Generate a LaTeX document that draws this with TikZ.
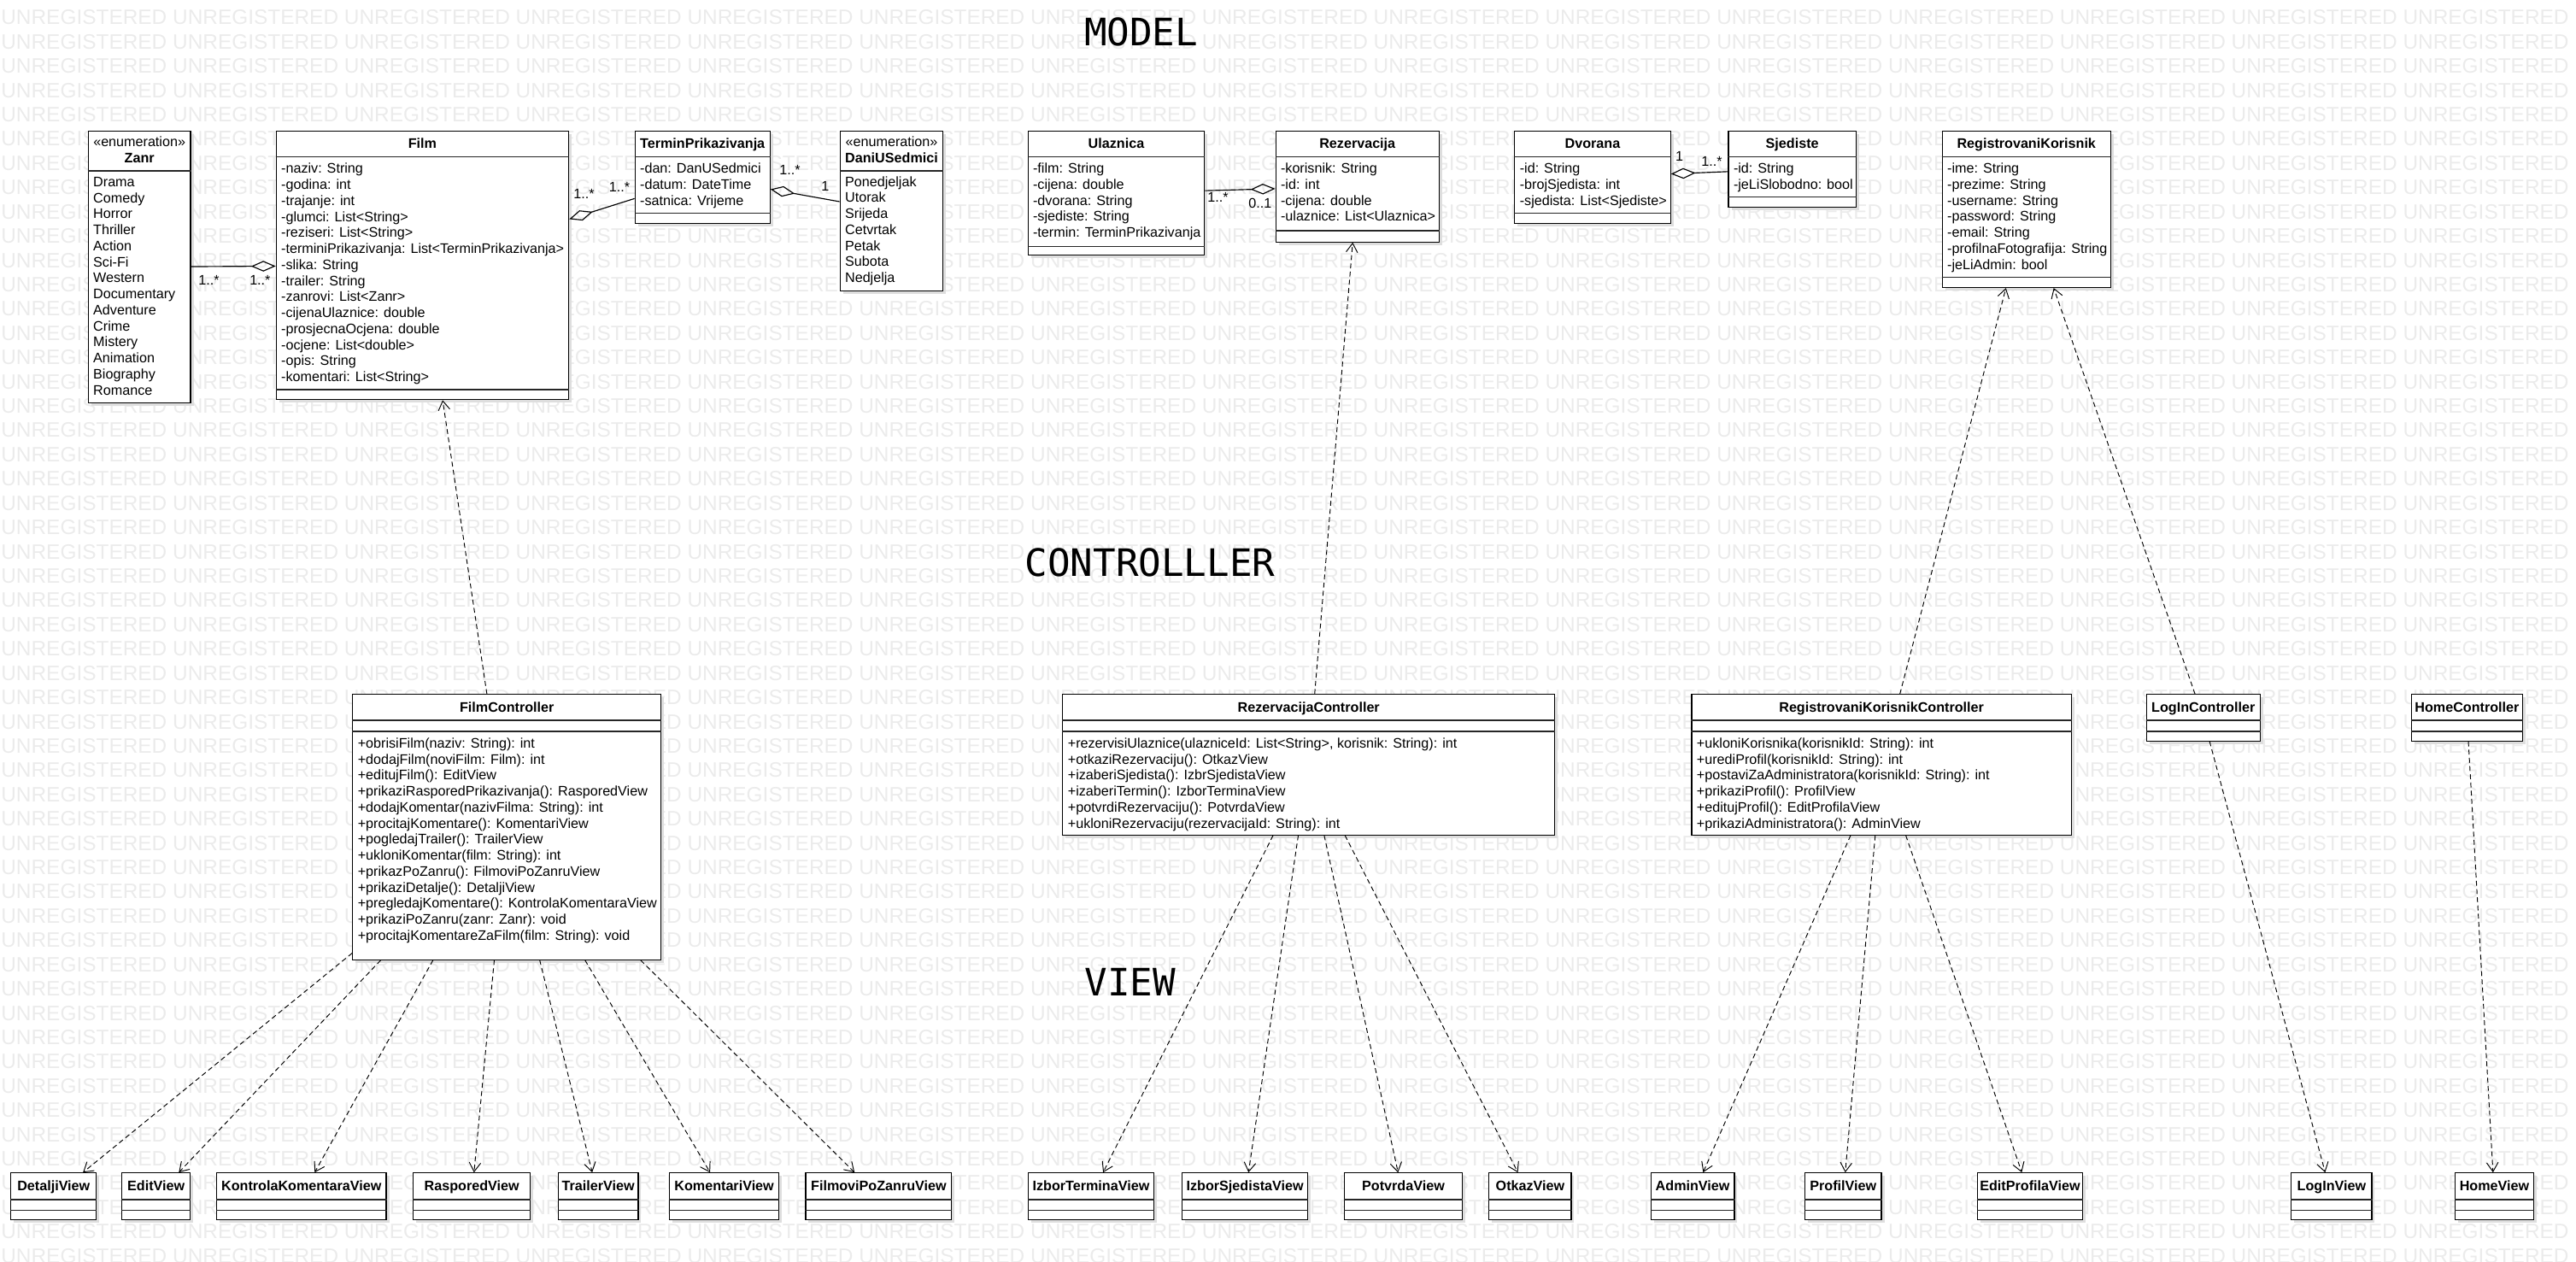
\documentclass[tikz,border=0pt]{standalone}
\usepackage{fontspec}
\setmainfont{Liberation Sans}
\newfontfamily\slojfont{DejaVu Sans Mono}
\usetikzlibrary{arrows.meta,shadows}

\newcommand{\tekst}{\fontsize{8.4pt}{9.75pt}\selectfont}
\newcommand{\vodenitekst}{UNREGISTERED UNREGISTERED UNREGISTERED UNREGISTERED UNREGISTERED UNREGISTERED UNREGISTERED UNREGISTERED UNREGISTERED UNREGISTERED UNREGISTERED UNREGISTERED UNREGISTERED UNREGISTERED UNREGISTERED UNREGISTERED}

% horizontalna linija preko klase, #2 = udaljenost od vrha
\newcommand{\pregrada}[2]{\draw[pregr] ([yshift=-#2pt]#1.north west) -- ([yshift=-#2pt]#1.north east);}
% redovi teksta u klasi, #2 = bazna linija prvog reda
\newcommand{\redovi}[3]{%
  \foreach \stavka [count=\i from 0] in {#3}
    \node[redak] (#1-\i) at ([xshift=3.2pt, yshift={-(#2+9.75*\i)*1pt}]#1.north west) {\stavka};}

\tikzset{
  klasa/.style={draw, fill=white, line width=0.6pt, anchor=north west, inner sep=0pt,
    drop shadow={shadow xshift=1.8pt, shadow yshift=-1.8pt, fill=black!13, opacity=1}},
  pregr/.style={line width=0.7pt, draw=black!85},
  ime/.style={font=\tekst\bfseries, anchor=base, inner sep=0pt},
  stereo/.style={font=\tekst, anchor=base, inner sep=0pt},
  redak/.style={font=\tekst, anchor=base west, inner sep=0pt},
  mult/.style={font=\tekst, inner sep=0pt},
  sloj/.style={font=\fontsize{23pt}{23pt}\slojfont, anchor=base, inner sep=0pt},
  vodeni/.style={font=\fontsize{12.7pt}{12.7pt}\selectfont, text=black!8, anchor=base west, inner sep=0pt},
  zavisnost/.style={line width=0.5pt, dash pattern=on 3pt off 2pt,
    -{Straight Barb[length=5.5pt, width=7pt]}},
  agregacija/.style={line width=0.6pt, -{Diamond[open, length=15pt, width=6.5pt]}}
}

\begin{document}
\begin{tikzpicture}[x=1pt, y=1pt]
  \useasboundingbox (0,0) rectangle (1568,-768);

  % vodeni znak
  \begin{scope}
    \clip (0,0) rectangle (1568,-768);
    \foreach \r in {0,...,51}
      \node[vodeni] (wm\r) at (0.5,{-15-14.78*\r}) {\vodenitekst};
  \end{scope}

  \node[sloj] (model) at (694.6,-27.7) {MODEL};
  \node[sloj] (kontroler) at (700,-351) {CONTROLLLER};
  \node[sloj] (pogled) at (688,-606) {VIEW};

  % MODEL
  \node[klasa, minimum width=62.3pt, minimum height=165.5pt] (zanr) at (53.4,-79.4) {};
  \node[stereo] at ([yshift=-9.9pt]zanr.north) {«enumeration»};
  \node[ime] at ([yshift=-19.5pt]zanr.north) {Zanr};
  \pregrada{zanr}{24.6}
  \redovi{zanr}{34.2}{Drama, Comedy, Horror, Thriller, Action, Sci-Fi, Western, Documentary,
    Adventure, Crime, Mistery, Animation, Biography, Romance}

  \node[klasa, minimum width=178.1pt, minimum height=163.6pt] (film) at (167.8,-79.4) {};
  \node[ime] at ([yshift=-10.8pt]film.north) {Film};
  \pregrada{film}{16.1}
  \pregrada{film}{157.7}
  \redovi{film}{26.1}{-naziv: String, -godina: int, -trajanje: int, -glumci: List<String>,
    -reziseri: List<String>, -terminiPrikazivanja: List<TerminPrikazivanja>, -slika: String,
    -trailer: String, -zanrovi: List<Zanr>, -cijenaUlaznice: double, -prosjecnaOcjena: double,
    -ocjene: List<double>, -opis: String, -komentari: List<String>}

  \node[klasa, minimum width=82.2pt, minimum height=56.2pt] (termin) at (386.2,-79.4) {};
  \node[ime] at ([yshift=-10.8pt]termin.north) {TerminPrikazivanja};
  \pregrada{termin}{15.9}
  \pregrada{termin}{50.3}
  \redovi{termin}{26}{-dan: DanUSedmici, -datum: DateTime, -satnica: Vrijeme}

  \node[klasa, minimum width=62.8pt, minimum height=97.4pt] (dani) at (511,-79.4) {};
  \node[stereo] at ([yshift=-9.9pt]dani.north) {«enumeration»};
  \node[ime] at ([yshift=-19.5pt]dani.north) {DaniUSedmici};
  \pregrada{dani}{24.6}
  \redovi{dani}{34}{Ponedjeljak, Utorak, Srijeda, Cetvrtak, Petak, Subota, Nedjelja}

  \node[klasa, minimum width=107.5pt, minimum height=75.7pt] (ulaznica) at (625.4,-79.4) {};
  \node[ime] at ([yshift=-10.8pt]ulaznica.north) {Ulaznica};
  \pregrada{ulaznica}{15.9}
  \pregrada{ulaznica}{70.5}
  \redovi{ulaznica}{26}{-film: String, -cijena: double, -dvorana: String, -sjediste: String,
    -termin: TerminPrikazivanja}

  \node[klasa, minimum width=99.5pt, minimum height=67.6pt] (rezervacija) at (776.2,-79.4) {};
  \node[ime] at ([yshift=-10.8pt]rezervacija.north) {Rezervacija};
  \pregrada{rezervacija}{15.9}
  \pregrada{rezervacija}{61}
  \redovi{rezervacija}{26}{-korisnik: String, -id: int, -cijena: double, -ulaznice: List<Ulaznica>}

  \node[klasa, minimum width=94.8pt, minimum height=56.2pt] (dvorana) at (921.7,-79.4) {};
  \node[ime] at ([yshift=-10.8pt]dvorana.north) {Dvorana};
  \pregrada{dvorana}{15.9}
  \pregrada{dvorana}{50.3}
  \redovi{dvorana}{26}{-id: String, -brojSjedista: int, -sjedista: List<Sjediste>}

  \node[klasa, minimum width=77.6pt, minimum height=46.3pt] (sjediste) at (1051.8,-79.4) {};
  \node[ime] at ([yshift=-10.8pt]sjediste.north) {Sjediste};
  \pregrada{sjediste}{15.9}
  \pregrada{sjediste}{40.6}
  \redovi{sjediste}{26}{-id: String, -jeLiSlobodno: bool}

  \node[klasa, minimum width=102.5pt, minimum height=95.3pt] (korisnik) at (1181.9,-79.4) {};
  \node[ime] at ([yshift=-10.8pt]korisnik.north) {RegistrovaniKorisnik};
  \pregrada{korisnik}{15.9}
  \pregrada{korisnik}{89.3}
  \redovi{korisnik}{26}{-ime: String, -prezime: String, -username: String, -password: String,
    -email: String, -profilnaFotografija: String, -jeLiAdmin: bool}

  % CONTROLLER
  \node[klasa, minimum width=187.7pt, minimum height=161.4pt] (filmctrl) at (214.4,-422.4) {};
  \node[ime] at ([yshift=-11pt]filmctrl.north) {FilmController};
  \pregrada{filmctrl}{16.1}
  \pregrada{filmctrl}{22.7}
  \redovi{filmctrl}{32.9}{{+obrisiFilm(naziv: String): int}, {+dodajFilm(noviFilm: Film): int},
    {+editujFilm(): EditView}, {+prikaziRasporedPrikazivanja(): RasporedView},
    {+dodajKomentar(nazivFilma: String): int}, {+procitajKomentare(): KomentariView},
    {+pogledajTrailer(): TrailerView}, {+ukloniKomentar(film: String): int},
    {+prikazPoZanru(): FilmoviPoZanruView}, {+prikaziDetalje(): DetaljiView},
    {+pregledajKomentare(): KontrolaKomentaraView}, {+prikaziPoZanru(zanr: Zanr): void},
    {+procitajKomentareZaFilm(film: String): void}}

  \node[klasa, minimum width=299.4pt, minimum height=85.5pt] (rezctrl) at (646.6,-422.4) {};
  \node[ime] at ([yshift=-11pt]rezctrl.north) {RezervacijaController};
  \pregrada{rezctrl}{16.1}
  \pregrada{rezctrl}{22.7}
  \redovi{rezctrl}{32.9}{{+rezervisiUlaznice(ulazniceId: List<String>, korisnik: String): int},
    {+otkaziRezervaciju(): OtkazView}, {+izaberiSjedista(): IzbrSjedistaView},
    {+izaberiTermin(): IzborTerminaView}, {+potvrdiRezervaciju(): PotvrdaView},
    {+ukloniRezervaciju(rezervacijaId: String): int}}

  \node[klasa, minimum width=231.1pt, minimum height=85.5pt] (korctrl) at (1029.4,-422.4) {};
  \node[ime] at ([yshift=-11pt]korctrl.north) {RegistrovaniKorisnikController};
  \pregrada{korctrl}{16.1}
  \pregrada{korctrl}{22.7}
  \redovi{korctrl}{32.9}{{+ukloniKorisnika(korisnikId: String): int},
    {+urediProfil(korisnikId: String): int}, {+postaviZaAdministratora(korisnikId: String): int},
    {+prikaziProfil(): ProfilView}, {+editujProfil(): EditProfilaView},
    {+prikaziAdministratora(): AdminView}}

  \node[klasa, minimum width=69pt, minimum height=28.3pt] (loginctrl) at (1306.3,-422.4) {};
  \node[ime] at ([yshift=-11pt]loginctrl.north) {LogInController};
  \pregrada{loginctrl}{16.1}
  \pregrada{loginctrl}{22.7}

  \node[klasa, minimum width=67.7pt, minimum height=28.3pt] (homectrl) at (1467.5,-422.4) {};
  \node[ime] at ([yshift=-11pt]homectrl.north) {HomeController};
  \pregrada{homectrl}{16.1}
  \pregrada{homectrl}{22.7}

  % VIEW
  \foreach \v/\x/\w/\t in {detalji/6.3/52.1/DetaljiView, edit/74/41.4/EditView,
      kontrola/131.5/103.3/KontrolaKomentaraView, raspored/251.1/71.5/RasporedView,
      trailer/339.4/48.8/TrailerView, komentari/407.3/66.4/KomentariView,
      filmovi/490.1/88.9/FilmoviPoZanruView, izbortermina/625.6/76.4/IzborTerminaView,
      izborsjedista/719.3/76.4/IzborSjedistaView, potvrda/817.8/72.2/PotvrdaView,
      otkaz/906.1/50/OtkazView, admin/1004.6/50.8/AdminView, profil/1098.3/46.6/ProfilView,
      editprofila/1203.4/63.9/EditProfilaView, login/1394.4/49/LogInView,
      home/1494.1/47.8/HomeView} {
    \node[klasa, minimum width=\w pt, minimum height=28.6pt] (\v) at (\x,-713.6) {};
    \node[ime] at ([yshift=-11.2pt]\v.north) {\t};
    \pregrada{\v}{16.5}
    \pregrada{\v}{22.9}
  }

  % asocijacije
  \draw[agregacija] (zanr) -- (film);
  \draw[agregacija] (termin) -- (film);
  \draw[agregacija] (dani) -- (termin);
  \draw[agregacija] (ulaznica) -- (rezervacija);
  \draw[agregacija] (sjediste) -- (dvorana);

  \node[mult] (m1) at (127.2,-170.7) {1..*};
  \node[mult] (m2) at (158.3,-170.7) {1..*};
  \node[mult] (m3) at (355.5,-118) {1..*};
  \node[mult] (m4) at (377,-113.9) {1..*};
  \node[mult] (m5) at (480.8,-103.7) {1..*};
  \node[mult] (m6) at (502.3,-113.5) {1};
  \node[mult] (m7) at (741.4,-120) {1..*};
  \node[mult] (m8) at (767,-123.9) {0..1};
  \node[mult] (m9) at (1022.3,-95.3) {1};
  \node[mult] (m10) at (1041.9,-98.5) {1..*};

  % zavisnosti
  \draw[zavisnost] (filmctrl) -- (film);
  \foreach \v in {detalji, edit, kontrola, raspored, trailer, komentari, filmovi}
    \draw[zavisnost] (filmctrl) -- (\v);
  \draw[zavisnost] (rezctrl) -- (rezervacija);
  \foreach \v in {izbortermina, izborsjedista, potvrda, otkaz}
    \draw[zavisnost] (rezctrl) -- (\v);
  \draw[zavisnost] (korctrl) -- (korisnik);
  \foreach \v in {admin, profil, editprofila}
    \draw[zavisnost] (korctrl) -- (\v);
  \draw[zavisnost] (loginctrl) -- (korisnik);
  \draw[zavisnost] (loginctrl) -- (login);
  \draw[zavisnost] (homectrl) -- (home);
\end{tikzpicture}
\end{document}
